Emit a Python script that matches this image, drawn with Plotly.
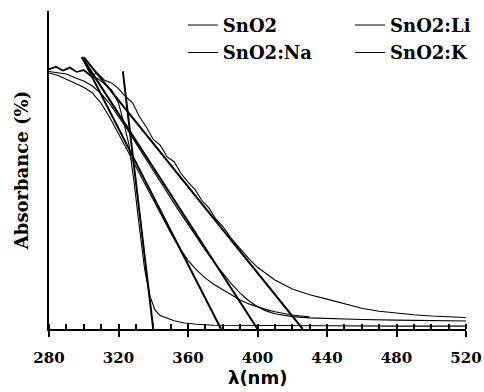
import plotly.graph_objects as go

# ---- data ----
series_names = ["SnO2", "SnO2:Li", "SnO2:Na", "SnO2:K"]

# SnO2 (steep edge ~340 nm)
wl_sno2 = [280, 284, 288, 292, 296, 300, 304, 308, 312, 316, 320, 323, 326, 329, 332, 335,
           338, 341, 344, 348, 352, 358, 365, 375, 390, 410, 440, 480, 520]
ab_sno2 = [81.5, 82.3, 81.2, 82.0, 80.8, 81.3, 79.5, 78.8, 77.0, 75.2, 71.0, 65.0, 58.0, 46.0,
           32.0, 19.0, 10.5, 6.0, 4.2, 3.3, 2.6, 1.9, 1.5, 1.2, 1.1, 1.0, 1.0, 0.9, 0.9]

# SnO2:Li (edge ~379 nm, ends at 430 nm)
wl_li = [280, 285, 290, 295, 300, 305, 310, 315, 320, 325, 330, 335, 340, 345, 350, 355, 360,
         365, 370, 375, 380, 385, 390, 395, 400, 405, 410, 415, 420, 425, 430]
ab_li = [80.5, 79.8, 78.5, 77.2, 76.0, 74.2, 71.0, 66.5, 61.5, 56.3, 51.0, 45.8, 40.6, 35.4,
         30.3, 25.6, 21.6, 18.5, 16.0, 14.0, 12.3, 10.6, 9.1, 7.9, 6.9, 6.1, 5.4, 4.8, 4.4, 4.1, 3.8]

# SnO2:Na (edge ~400 nm)
wl_na = [280, 285, 290, 295, 300, 305, 310, 315, 320, 325, 330, 335, 340, 345, 350, 355, 360,
         365, 370, 375, 380, 385, 390, 395, 400, 405, 410, 420, 430, 440, 460, 480, 500, 520]
ab_na = [81.0, 80.6, 80.2, 79.0, 78.0, 76.4, 74.0, 70.8, 67.0, 62.8, 58.4, 54.0, 49.7, 45.4,
         41.2, 37.0, 32.8, 28.7, 24.8, 21.0, 17.5, 14.2, 11.3, 8.9, 7.0, 5.7, 4.8, 3.9, 3.5,
         3.3, 3.0, 2.8, 2.6, 2.5]

# SnO2:K (edge ~426 nm)
wl_k = [280, 284, 288, 292, 296, 300, 304, 308, 312, 316, 320, 324, 328, 332, 336, 340, 344,
        348, 352, 356, 360, 364, 368, 372, 376, 380, 385, 390, 395, 400, 410, 420, 430, 440,
        450, 460, 470, 480, 490, 500, 510, 520]
ab_k = [81.8, 82.6, 81.4, 82.4, 80.9, 81.6, 79.8, 80.4, 78.2, 77.4, 75.6, 73.1, 71.2, 66.8,
        63.5, 59.6, 57.8, 54.1, 52.6, 48.9, 46.2, 43.9, 40.4, 38.1, 34.6, 32.3, 28.4, 25.3,
        22.1, 19.4, 15.4, 12.6, 10.8, 9.4, 7.9, 6.5, 5.6, 5.0, 4.5, 4.1, 3.8, 3.6]

# tangent (band-edge extrapolation) lines: start and end points
tan_sno2_x = [322.5, 340.0]
tan_sno2_y = [81.0, 0.0]
tan_li_x = [299.0, 379.0]
tan_li_y = [85.5, 0.0]
tan_na_x = [299.0, 400.0]
tan_na_y = [85.5, 0.0]
tan_k_x = [300.0, 426.0]
tan_k_y = [85.5, 0.0]

x_tick_vals = [280, 320, 360, 400, 440, 480, 520]
x_tick_text = ["280", "320", "360", "400", "440", "480", "520"]

# ---- figure ----
fig = go.Figure()
curves = [(wl_sno2, ab_sno2), (wl_li, ab_li), (wl_na, ab_na), (wl_k, ab_k)]
legend_ids = ["legend", "legend2", "legend", "legend2"]
for name, (xs, ys), lg in zip(series_names, curves, legend_ids):
    fig.add_trace(go.Scatter(x=xs, y=ys, mode="lines", name=name, legend=lg,
                             legendgroup=name,
                             line=dict(color="black", width=1.1)))

for tx, ty in [(tan_sno2_x, tan_sno2_y), (tan_li_x, tan_li_y),
               (tan_na_x, tan_na_y), (tan_k_x, tan_k_y)]:
    fig.add_trace(go.Scatter(x=tx, y=ty, mode="lines", showlegend=False,
                             line=dict(color="black", width=2)))

# invisible trace on the overlay axis to carry inside major ticks
fig.add_trace(go.Scatter(x=[280, 520], y=[0, 0], xaxis="x2", mode="lines",
                         line=dict(width=0), showlegend=False, hoverinfo="skip"))

serif_bold = "DejaVu Serif"
legend_font = dict(family=serif_bold, size=18, color="black", weight="bold")
fig.update_layout(
    width=484, height=392,
    margin=dict(l=49, r=18, t=11, b=63, autoexpand=False),
    paper_bgcolor="white", plot_bgcolor="white",
    showlegend=True,
    legend=dict(x=0.321, y=1.013, xanchor="left", yanchor="top", itemwidth=30,
                font=legend_font, bgcolor="rgba(0,0,0,0)", tracegroupgap=1),
    legend2=dict(x=0.722, y=1.013, xanchor="left", yanchor="top", itemwidth=30,
                 font=legend_font, bgcolor="rgba(0,0,0,0)", tracegroupgap=1),
    xaxis=dict(range=[280, 520], tickvals=x_tick_vals, ticktext=x_tick_text,
               showgrid=False, zeroline=False, showline=True, linecolor="black",
               linewidth=2, ticks="outside", ticklen=6, tickwidth=2, tickcolor="black",
               ticklabelstandoff=8, automargin=False,
               minor=dict(dtick=10, ticks="inside", ticklen=5, tickwidth=1.5,
                          tickcolor="black", showgrid=False),
               tickfont=dict(family=serif_bold, size=15, color="black", weight="bold")),
    xaxis2=dict(range=[280, 520], overlaying="x", side="bottom", tickvals=x_tick_vals,
                showticklabels=False, ticks="inside", ticklen=5, tickwidth=2,
                tickcolor="black", showgrid=False, zeroline=False, showline=False),
    yaxis=dict(range=[0, 100], showgrid=False, zeroline=False, showline=True,
               linecolor="black", linewidth=2, ticks="", showticklabels=False,
               automargin=False,
               title=dict(text="Absorbance (%)\u00a0\u00a0\u00a0\u00a0", standoff=14,
                          font=dict(family=serif_bold, size=18, color="black",
                                    weight="bold"))),
    annotations=[dict(text="λ(nm)", xref="paper", yref="paper", x=0.5, y=0,
                      xanchor="center", yanchor="top", yshift=-36, showarrow=False,
                      font=dict(family="DejaVu Sans", size=18, color="black",
                                weight="bold"))],
)

fig.write_html("out.html")
